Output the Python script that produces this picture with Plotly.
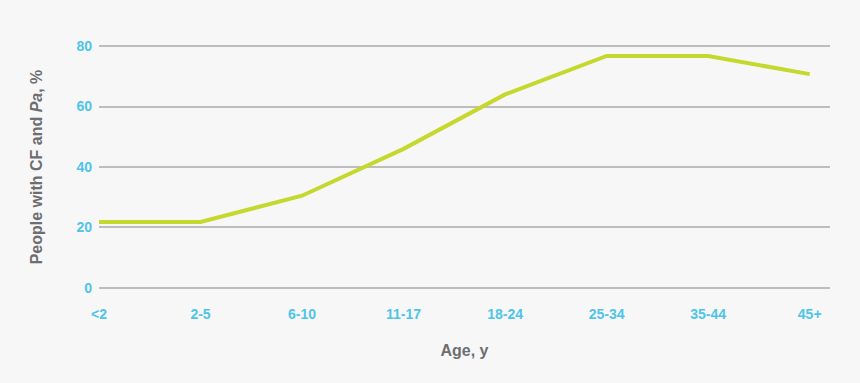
import plotly.graph_objects as go

categories = ["<2", "2-5", "6-10", "11-17", "18-24", "25-34", "35-44", "45+"]
values = [21.8, 21.8, 30.5, 46, 64, 76.7, 76.7, 70.7]
y_ticks = [0, 20, 40, 60, 80]

x_pos = list(range(len(categories)))

fig = go.Figure()
fig.add_trace(go.Scatter(
    x=x_pos, y=values, mode="lines",
    line=dict(color="#C5D82E", width=4),
    hoverinfo="skip", showlegend=False,
))

tick_font = dict(family="Liberation Sans, Arial, sans-serif", size=14, color="#4FC4E8")
title_font = dict(family="Liberation Sans, Arial, sans-serif", size=16, color="#6D6E71")

fig.update_layout(
    width=860, height=383,
    paper_bgcolor="#F7F7F7", plot_bgcolor="#F7F7F7",
    margin=dict(l=99, r=29.5, t=43, b=92),
    xaxis=dict(
        range=[0, 7.2], tickmode="array", tickvals=x_pos,
        ticktext=[f"<b>{c}</b>" for c in categories],
        showgrid=False, zeroline=False, showline=False, ticks="",
        tickfont=tick_font, ticklabelstandoff=13,
        title=dict(text="<b>Age, y</b>", font=title_font, standoff=23),
    ),
    yaxis=dict(
        range=[-1, 81], tickmode="array", tickvals=y_ticks,
        ticktext=[f"<b>{v}</b>" for v in y_ticks],
        showgrid=True, gridcolor="#BDBDBD", gridwidth=1.5,
        zeroline=False, showline=False, ticks="",
        tickfont=tick_font, ticklabelstandoff=6,
        title=dict(text="<b>People with CF and <i>Pa</i>, %</b>", font=title_font, standoff=29),
    ),
)

fig.write_html("out.html")
